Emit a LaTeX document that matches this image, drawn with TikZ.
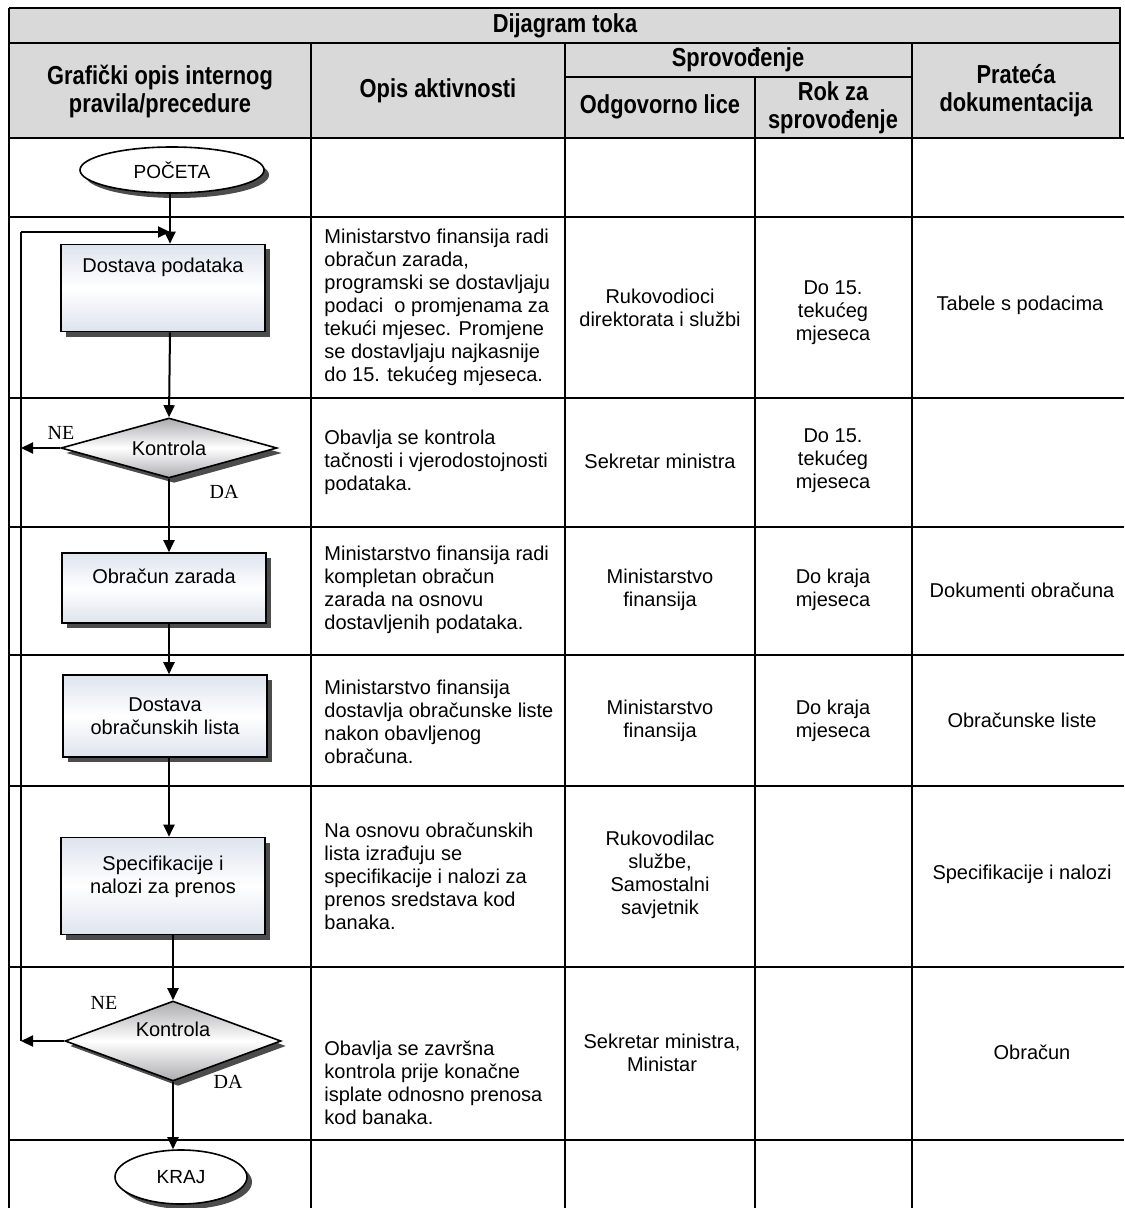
\documentclass[tikz,border=0pt]{standalone}
\usepackage{fontspec}
\setmainfont{Liberation Sans}
\newfontfamily\hdrfont[FakeStretch=0.84]{Liberation Sans}
\newfontfamily\serfont{Liberation Serif}
\usetikzlibrary{positioning}
\usetikzlibrary{arrows.meta}
\usetikzlibrary{shapes.geometric}
\usetikzlibrary{shadows}

\definecolor{hdrgray}{RGB}{217,217,217}
\definecolor{boxtint}{RGB}{222,228,238}
\definecolor{diagray}{RGB}{172,172,176}

\begin{document}
\begin{tikzpicture}[x=0.5pt, y=-0.5pt,
	hgrid/.style={draw=black, line width=0.8pt},
	vgrid/.style={draw=black, line width=0.6pt},
	hdr/.style={font=\hdrfont\bfseries\fontsize{13}{14}\selectfont, align=center, inner sep=0pt},
	cell/.style={font=\fontsize{10}{11.5}\selectfont, align=center, inner sep=0pt},
	desc/.style={font=\fontsize{10}{11.5}\selectfont, align=left, anchor=west, inner sep=0pt},
	yesno/.style={font=\serfont\fontsize{10}{11}\selectfont, inner sep=0pt},
	shadowed/.style={drop shadow={shadow xshift=2.5pt, shadow yshift=-2.5pt, fill=black!70, opacity=1}},
	procbox/.style={rectangle, draw=black, line width=0.8pt, shadowed, top color=boxtint, bottom color=boxtint, middle color=white, minimum width=102pt, align=center, font=\fontsize{10}{11.5}\selectfont},
	decision/.style={diamond, draw=black, line width=0.8pt, shadowed, top color=diagray, bottom color=diagray, middle color=white, inner sep=0pt, minimum width=108pt, align=center, font=\fontsize{10}{11.5}\selectfont},
	terminal/.style={ellipse, draw=black, line width=0.8pt, shadowed, fill=white, inner sep=0pt, font=\fontsize{9.5}{11}\selectfont},
	arrow/.style={line width=1pt, black, -{Stealth[length=6pt, width=5.5pt, inset=0pt]}},
	flowline/.style={line width=1pt, black}
]

\useasboundingbox (0,0) rectangle (1124,1208);

% Header background
\fill[hdrgray] (9,8) rectangle (1120,138);

% Table frame and rows
\draw[line width=1pt] (9,8) -- (1120,8) -- (1120,138);
\draw[line width=1pt] (9,8) -- (9,1208);
\draw[hgrid] (9,43) -- (1120,43);
\draw[hgrid] (565,77) -- (912,77);
\draw[line width=1pt] (9,138) -- (1124,138);
\foreach \y in {217,398,527,655,786,967,1140}
	\draw[hgrid] (9,\y) -- (1124,\y);

% Column lines
\foreach \x in {311,565,912}
	\draw[vgrid] (\x,43) -- (\x,1208);
\draw[vgrid] (755,77) -- (755,1208);

% Header texts
\node[hdr] (hTitle) at (565,26) {Dijagram toka};
\node[hdr] (hGraf) at (160,91) {Grafički opis internog\\pravila/precedure};
\node[hdr] (hOpis) at (438,91) {Opis aktivnosti};
\node[hdr] (hSprov) at (738,60) {Sprovođenje};
\node[hdr] (hOdg) at (660,107) {Odgovorno lice};
\node[hdr] (hRok) at (833,108) {Rok za\\sprovođenje};
\node[hdr] (hPrat) at (1016,91) {Prateća\\dokumentacija};

% Opis aktivnosti
\node[desc] (dA) at (324,307) {Ministarstvo finansija radi\\obračun zarada,\\programski se dostavljaju\\podaci\ \ o promjenama za\\tekući mjesec. Promjene\\se dostavljaju najkasnije\\do 15. tekućeg mjeseca.};
\node[desc] (dB) at (324,462) {Obavlja se kontrola\\tačnosti i vjerodostojnosti\\podataka.};
\node[desc] (dC) at (324,590) {Ministarstvo finansija radi\\kompletan obračun\\zarada na osnovu\\dostavljenih podataka.};
\node[desc] (dD) at (324,722) {Ministarstvo finansija\\dostavlja obračunske liste\\nakon obavljenog\\obračuna.};
\node[desc] (dE) at (324,876) {Na osnovu obračunskih\\lista izrađuju se\\specifikacije i nalozi za\\prenos sredstava kod\\banaka.};
\node[desc] (dF) at (324,1083) {Obavlja se završna\\kontrola prije konačne\\isplate odnosno prenosa\\kod banaka.};

% Odgovorno lice
\node[cell] (oA) at (660,308) {Rukovodioci\\direktorata i službi};
\node[cell] (oB) at (660,461) {Sekretar ministra};
\node[cell] (oC) at (660,590) {Ministarstvo\\finansija};
\node[cell] (oD) at (660,721) {Ministarstvo\\finansija};
\node[cell] (oE) at (660,875) {Rukovodilac\\službe,\\Samostalni\\savjetnik};
\node[cell] (oF) at (662,1053) {Sekretar ministra,\\Ministar};

% Rok za sprovodjenje
\node[cell] (rA) at (833,313) {Do 15.\\tekućeg\\mjeseca};
\node[cell] (rB) at (833,461) {Do 15.\\tekućeg\\mjeseca};
\node[cell] (rC) at (833,590) {Do kraja\\mjeseca};
\node[cell] (rD) at (833,721) {Do kraja\\mjeseca};

% Prateca dokumentacija
\node[cell] (pA) at (1020,305) {Tabele s podacima};
\node[cell] (pC) at (1022,590) {Dokumenti obračuna};
\node[cell] (pD) at (1022,720) {Obračunske liste};
\node[cell] (pE) at (1022,874) {Specifikacije i nalozi};
\node[cell] (pF) at (1032,1052) {Obračun};

% Flow chart shapes
\node[terminal, minimum width=92pt, minimum height=23pt] (start) at (172,170) {POČETA};
\node[procbox, minimum height=43.5pt] (dost) at (163,288) {Dostava podataka\\~\\~};
\node[decision, aspect=3.6, minimum height=30pt] (kon1) at (169,448) {Kontrola};
\node[procbox, minimum height=35pt] (obr) at (164,588) {Obračun zarada\\~};
\node[procbox, minimum height=41pt] (lst) at (165,716) {Dostava\\obračunskih lista};
\node[procbox, minimum height=48.5pt] (spc) at (163,886) {Specifikacije i\\nalozi za prenos\\~};
\node[decision, aspect=2.7, minimum height=40pt] (kon2) at (173,1041) {Kontrola\\~};
\node[terminal, minimum width=66pt, minimum height=27pt] (kraj) at (181,1177) {KRAJ};

% Decision labels
\node[yesno] (ne1) at (61,433) {NE};
\node[yesno] (da1) at (224,492) {DA};
\node[yesno] (ne2) at (104,1003) {NE};
\node[yesno] (da2) at (228,1082) {DA};

% Return line
\coordinate (fbtop) at (21,232);
\coordinate (fbbot) at (21,1041);
\coordinate (join) at (170,232);
\draw[flowline] (fbbot) -- (fbtop);
\draw[arrow] (fbtop) -- (join);

% Connectors
\draw[arrow] (start.south -| join) -- (join |- dost.north);
\draw[arrow] (join |- dost.south) -- (kon1.north);
\draw[arrow] (kon1.west) -- (kon1.west -| fbtop);
\draw[arrow] (kon1.south) -- (kon1.south |- obr.north);
\draw[arrow] (kon1.south |- obr.south) -- (kon1.south |- lst.north);
\draw[arrow] (kon1.south |- lst.south) -- (kon1.south |- spc.north);
\draw[arrow] (kon2.north |- spc.south) -- (kon2.north);
\draw[arrow] (kon2.west) -- (fbbot);
\draw[arrow] (kon2.south) -- (kon2.south |- kraj.north);

\end{tikzpicture}
\end{document}
